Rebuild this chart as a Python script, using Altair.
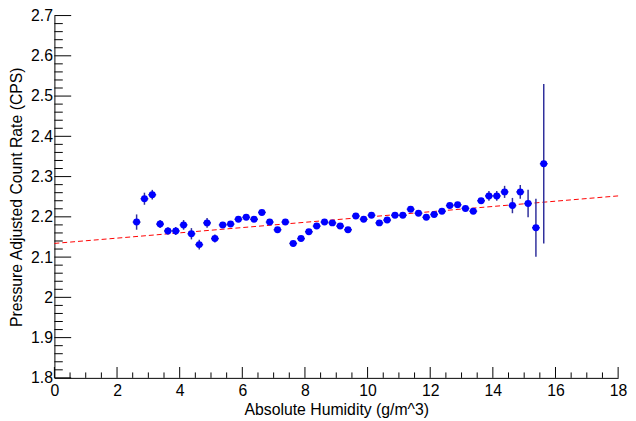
import altair as alt
import pandas as pd

# ---- data ----
humidity = [2.625, 2.875, 3.125, 3.375, 3.625, 3.875, 4.125, 4.375, 4.625, 4.875,
            5.125, 5.375, 5.625, 5.875, 6.125, 6.375, 6.625, 6.875, 7.125, 7.375,
            7.625, 7.875, 8.125, 8.375, 8.625, 8.875, 9.125, 9.375, 9.625, 9.875,
            10.125, 10.375, 10.625, 10.875, 11.125, 11.375, 11.625, 11.875, 12.125, 12.375,
            12.625, 12.875, 13.125, 13.375, 13.625, 13.875, 14.125, 14.375, 14.625, 14.875,
            15.125, 15.375, 15.625]
rate = [2.187, 2.245, 2.255, 2.182, 2.165, 2.165, 2.180, 2.158, 2.131, 2.185,
        2.146, 2.180, 2.182, 2.194, 2.199, 2.194, 2.211, 2.187, 2.168, 2.187,
        2.134, 2.146, 2.163, 2.177, 2.187, 2.185, 2.177, 2.168, 2.202, 2.194,
        2.204, 2.185, 2.192, 2.204, 2.204, 2.219, 2.209, 2.199, 2.206, 2.214,
        2.228, 2.230, 2.221, 2.214, 2.240, 2.252, 2.252, 2.262, 2.228, 2.262,
        2.233, 2.173, 2.332]
rate_err = [0.019, 0.015, 0.012, 0.010, 0.009, 0.010, 0.012, 0.014, 0.012, 0.012,
            0.010, 0.007, 0.007, 0.006, 0.005, 0.005, 0.005, 0.005, 0.005, 0.005,
            0.005, 0.005, 0.005, 0.005, 0.005, 0.005, 0.005, 0.005, 0.005, 0.005,
            0.005, 0.005, 0.005, 0.005, 0.005, 0.005, 0.005, 0.005, 0.005, 0.005,
            0.005, 0.005, 0.005, 0.005, 0.006, 0.012, 0.012, 0.015, 0.019, 0.017,
            0.034, 0.072, 0.198]
hum_err = [0.125] * len(humidity)

fit_x = [0, 18]
fit_y = [2.134, 2.252]

x_major = [0, 2, 4, 6, 8, 10, 12, 14, 16, 18]
y_major = [1.8, 1.9, 2.0, 2.1, 2.2, 2.3, 2.4, 2.5, 2.6, 2.7]
x_minor = [m + s for m in x_major[:-1] for s in (0.5, 1.0, 1.5)]
y_minor = [round(m + s, 2) for m in y_major[:-1] for s in (0.02, 0.04, 0.06, 0.08)]

W, H = 571, 367
FONT = "Liberation Sans"

df = pd.DataFrame({"x": humidity, "y": rate, "ey": rate_err, "ex": hum_err})
df["ylo"] = df["y"] - df["ey"]
df["yhi"] = df["y"] + df["ey"]
df["xlo"] = df["x"] - df["ex"]
df["xhi"] = df["x"] + df["ex"]

xs = alt.Scale(domain=[0, 18], nice=False, zero=False)
ys = alt.Scale(domain=[1.8, 2.7], nice=False, zero=False)

x_axis = alt.Axis(values=x_major, format="d", title="Absolute Humidity (g/m^3)",
                  ticks=False, grid=False, domainColor="black", domainWidth=1,
                  labelFont=FONT, labelFontSize=16, labelColor="black", labelPadding=5,
                  titleFont=FONT, titleFontSize=16, titleFontWeight="normal",
                  titleColor="black", titlePadding=3, labelFlush=False)
y_axis = alt.Axis(values=y_major, format="~g", title="Pressure Adjusted Count Rate (CPS)",
                  ticks=False, grid=False, domainColor="black", domainWidth=1,
                  labelFont=FONT, labelFontSize=16, labelColor="black", labelPadding=2,
                  titleFont=FONT, titleFontSize=16, titleFontWeight="normal",
                  titleColor="black", titlePadding=6, labelFlush=False)

fit_df = pd.DataFrame({"x": fit_x, "y": fit_y})
fit = alt.Chart(fit_df).mark_line(color="#ff0000", strokeWidth=1, strokeDash=[5, 3]).encode(
    x=alt.X("x:Q", scale=xs, axis=x_axis),
    y=alt.Y("y:Q", scale=ys, axis=y_axis),
)

ebar_y = alt.Chart(df).mark_rule(color="#30309c", strokeWidth=1.5).encode(
    x="x:Q", y="ylo:Q", y2="yhi:Q")
ebar_x = alt.Chart(df).mark_rule(color="#30309c", strokeWidth=1.5).encode(
    y="y:Q", x="xlo:Q", x2="xhi:Q")
pts = alt.Chart(df).mark_circle(color="#0000ff", size=50, opacity=1).encode(
    x="x:Q", y="y:Q")

ytmaj = alt.Chart(pd.DataFrame({"v": y_major})).mark_rule(color="black", strokeWidth=1).encode(
    y="v:Q", x=alt.value(0), x2=alt.value(17))
ytmin = alt.Chart(pd.DataFrame({"v": y_minor})).mark_rule(color="black", strokeWidth=1).encode(
    y="v:Q", x=alt.value(0), x2=alt.value(8.5))
xtmaj = alt.Chart(pd.DataFrame({"v": x_major})).mark_rule(color="black", strokeWidth=1).encode(
    x="v:Q", y=alt.value(H), y2=alt.value(H - 11))
xtmin = alt.Chart(pd.DataFrame({"v": x_minor})).mark_rule(color="black", strokeWidth=1).encode(
    x="v:Q", y=alt.value(H), y2=alt.value(H - 5.5))

chart = alt.layer(fit, ytmaj, ytmin, xtmaj, xtmin, ebar_y, ebar_x, pts).properties(
    width=W, height=H,
    autosize=alt.AutoSizeParams(type="none"),
    padding={"left": 47, "top": 5, "right": 10, "bottom": 38},
    background="white",
).configure_view(stroke=None)

chart.save("out.html", embed_options={"renderer": "svg", "actions": False})
